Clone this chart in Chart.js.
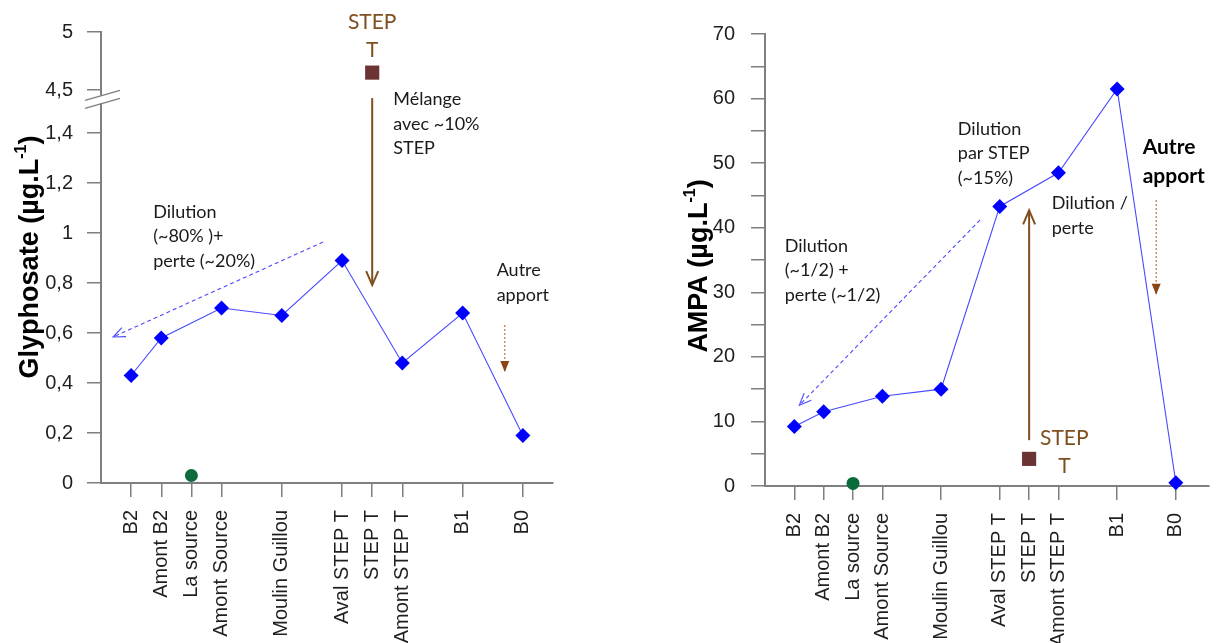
<!DOCTYPE html>
<html>
<head>
<meta charset="utf-8">
<script src="https://cdn.jsdelivr.net/npm/chart.js@4.4.0/dist/chart.umd.min.js"></script>
<style>
html, body { margin: 0; padding: 0; background: #fff; overflow: hidden; }
.box { position: absolute; top: 0; height: 643px; }
#left { left: 0; width: 600px; }
#right { left: 609px; width: 610px; }
</style>
</head>
<body>
<div class="box" id="left"><canvas id="glyChart"></canvas></div>
<div class="box" id="right"><canvas id="ampaChart"></canvas></div>
<script>
// sampling sites, upstream -> downstream, and their place on the x axis
const sites = ['B2', 'Amont B2', 'La source', 'Amont Source', 'Moulin Guillou',
  'Aval STEP T', 'STEP T', 'Amont STEP T', 'B1', 'B0'];
const sitePos = [0, 1, 2, 3, 5, 7, 8, 9, 11, 13];

// glyphosate (µg/L)
const glyRiver  = [0.43, 0.58, null, 0.70, 0.67, 0.89, null, 0.48, 0.68, 0.19];
const glySource = [null, null, 0.03, null, null, null, null, null, null, null];
const glyStep   = [null, null, null, null, null, null, 4.65, null, null, null];

// AMPA (µg/L)
const ampaRiver  = [9.2, 11.5, null, 13.9, 15.0, 43.3, null, 48.5, 61.5, 0.5];
const ampaSource = [null, null, 0.4, null, null, null, null, null, null, null];
const ampaStep   = [null, null, null, null, null, null, 4.2, null, null, null];

// y ticks
const glyLowTicks  = [0, 0.1, 0.2, 0.3, 0.4, 0.5, 0.6, 0.7, 0.8, 0.9, 1, 1.1, 1.2, 1.3, 1.4, 1.5];
const glyLowLabels = [0, 0.2, 0.4, 0.6, 0.8, 1, 1.2, 1.4];
const glyHighTicks  = [4.5, 4.75, 5];
const glyHighLabels = [4.5, 5];
const ampaTicks  = [0, 5, 10, 15, 20, 25, 30, 35, 40, 45, 50, 55, 60, 65, 70];
const ampaLabels = [0, 10, 20, 30, 40, 50, 60, 70];

const AXIS = '#7f7f7f';
const TXT = '#1f1f1f';
const BROWN = '#7f4f1f';
const tickFont = { family: '"Liberation Sans", Arial, sans-serif', size: 20 };
const fr = v => String(v).replace('.', ',');
const pts = vals => sitePos.map((x, i) => ({ x: x, y: vals[i] }));

function arrow(ctx, x1, y1, x2, y2, st) {
  ctx.save();
  ctx.strokeStyle = st.color;
  ctx.lineWidth = st.width;
  ctx.setLineDash(st.dash || []);
  ctx.beginPath(); ctx.moveTo(x1, y1); ctx.lineTo(x2, y2); ctx.stroke();
  const a = Math.atan2(y2 - y1, x2 - x1), L = st.head, W = st.spread;
  const bx = x2 - L * Math.cos(a), by = y2 - L * Math.sin(a);
  ctx.setLineDash([]);
  ctx.beginPath();
  ctx.moveTo(bx + W * Math.sin(a), by - W * Math.cos(a));
  ctx.lineTo(x2, y2);
  ctx.lineTo(bx - W * Math.sin(a), by + W * Math.cos(a));
  if (st.fill) { ctx.closePath(); ctx.fillStyle = st.fill; ctx.fill(); } else { ctx.stroke(); }
  ctx.restore();
}

// titles, notes, arrows and axis break
const decor = cfg => ({
  id: 'decor',
  afterDraw(chart) {
    const ctx = chart.ctx, sx = chart.scales.x;
    const P = p => [sx.getPixelForValue(p[0]), chart.scales[p[2]].getPixelForValue(p[1])];

    // axis title with superscript
    const t = cfg.title;
    ctx.save();
    ctx.translate(t.x, t.y);
    ctx.rotate(-Math.PI / 2);
    ctx.fillStyle = '#000';
    ctx.textBaseline = 'middle';
    ctx.textAlign = 'left';
    const big = 'bold 27px "Liberation Sans", Arial, sans-serif';
    const small = 'bold 16px "Liberation Sans", Arial, sans-serif';
    ctx.font = big; const w1 = ctx.measureText(t.text).width, w3 = ctx.measureText(')').width;
    ctx.font = small; const w2 = ctx.measureText(t.sup).width;
    let x0 = -(w1 + w2 + w3) / 2;
    ctx.font = big; ctx.fillText(t.text, x0, 0);
    ctx.font = small; ctx.fillText(t.sup, x0 + w1, -9);
    ctx.font = big; ctx.fillText(')', x0 + w1 + w2, 0);
    ctx.restore();

    if (cfg.brk) {
      const ax = chart.chartArea.left, b = chart.scales.yHi.bottom;
      ctx.save();
      ctx.fillStyle = '#fff';
      ctx.fillRect(ax - 3, b - 4, 6, 8);
      ctx.strokeStyle = AXIS; ctx.lineWidth = 1.3;
      [-4, 4].forEach(d => {
        ctx.beginPath(); ctx.moveTo(ax - 16, b + d + 5); ctx.lineTo(ax + 19, b + d - 5); ctx.stroke();
      });
      ctx.restore();
    }

    cfg.arrows.forEach(a => {
      const p = P(a.from), q = P(a.to);
      arrow(ctx, p[0], p[1], q[0], q[1], a.style);
    });

    cfg.notes.forEach(n => {
      const p = P(n.at);
      ctx.save();
      ctx.font = (n.bold ? 'bold ' : '') + n.size + 'px Lato, "Open Sans", sans-serif';
      ctx.fillStyle = n.color || '#1a1a1a';
      ctx.textAlign = n.align || 'left';
      ctx.textBaseline = 'middle';
      n.lines.forEach((s, i) => ctx.fillText(s, p[0], p[1] + i * n.lh));
      ctx.restore();
    });
  }
});

const solidBrown = { color: BROWN, width: 2, head: 14, spread: 6 };
const dashBlue = { color: '#4a4aff', width: 1.1, dash: [4, 3], head: 12, spread: 5 };
const dotBrown = { color: '#c47a45', width: 1.3, dash: [2, 2], head: 11, spread: 4.5, fill: '#8b4513' };

function riverSet(vals, yId) {
  return {
    data: pts(vals), yAxisID: yId, spanGaps: true, clip: false,
    borderColor: '#4848ff', borderWidth: 1.1,
    pointStyle: 'rectRot', pointRadius: 7.5, pointBackgroundColor: '#0000ff', pointBorderWidth: 0
  };
}
function sourceSet(vals, yId) {
  return {
    data: pts(vals), yAxisID: yId, showLine: false, clip: false,
    pointStyle: 'circle', pointRadius: 6.5, pointBackgroundColor: '#0b6b3a', pointBorderWidth: 0
  };
}
function stepSet(vals, yId) {
  return {
    data: pts(vals), yAxisID: yId, showLine: false, clip: false,
    pointStyle: 'rect', pointRadius: 10, pointBackgroundColor: '#6b3333', pointBorderWidth: 0
  };
}

function xScale(max, height) {
  return {
    type: 'linear', min: -1, max: max,
    afterBuildTicks: s => { s.ticks = sitePos.map(v => ({ value: v })); },
    afterFit: s => { s.height = height; },
    ticks: { autoSkip: false, minRotation: 90, maxRotation: 90, padding: 13, color: TXT, font: tickFont,
      callback: (v, i) => sites[i] },
    grid: { drawOnChartArea: false, tickLength: 14, color: AXIS, lineWidth: 1.5 },
    border: { color: AXIS, width: 2 }
  };
}
function yScale(min, max, ticks, labels, width, pad, extra) {
  return Object.assign({
    type: 'linear', position: 'left', min: min, max: max,
    afterBuildTicks: s => { s.ticks = ticks.map(v => ({ value: v })); },
    afterFit: s => { s.width = width; },
    ticks: { padding: pad, color: TXT, font: tickFont,
      callback: v => labels.includes(v) ? fr(v) : '' },
    grid: { drawOnChartArea: false, tickLength: 14, color: AXIS, lineWidth: 1.5 },
    border: { color: AXIS, width: 2 }
  }, extra || {});
}
const base = {
  responsive: true, maintainAspectRatio: false, animation: false,
  plugins: { legend: { display: false }, tooltip: { enabled: false } }
};

new Chart(document.getElementById('glyChart'), {
  type: 'line',
  data: { datasets: [riverSet(glyRiver, 'yLo'), sourceSet(glySource, 'yLo'), stepSet(glyStep, 'yHi')] },
  options: Object.assign({}, base, {
    layout: { padding: { top: 32, left: 0, right: 47, bottom: 0 } },
    scales: {
      x: xScale(14, 160),
      yLo: yScale(0, 1.535, glyLowTicks, glyLowLabels, 101, 14, { stack: 'gly', stackWeight: 383.7 }),
      yHi: yScale(4.42, 5, glyHighTicks, glyHighLabels, 101, 14, { stack: 'gly', stackWeight: 67.3 })
    }
  }),
  plugins: [decor({
    title: { text: 'Glyphosate (µg.L', sup: '-1', x: 31, y: 257 },
    brk: true,
    arrows: [
      { from: [8, 4.43, 'yHi'], to: [8, 0.792, 'yLo'], style: solidBrown },
      { from: [6.37, 0.964, 'yLo'], to: [-0.6, 0.584, 'yLo'], style: dashBlue },
      { from: [12.4, 0.632, 'yLo'], to: [12.4, 0.444, 'yLo'], style: dotBrown }
    ],
    notes: [
      { at: [8, 5.086, 'yHi'], lines: ['STEP', 'T'], lh: 28, size: 21, color: BROWN, align: 'center' },
      { at: [8.7, 4.42, 'yHi'], lines: ['Mélange', 'avec ~10%', 'STEP'], lh: 24.5, size: 18 },
      { at: [0.73, 1.084, 'yLo'], lines: ['Dilution', '(~80% )+', 'perte (~20%)'], lh: 24.5, size: 18 },
      { at: [12.13, 0.852, 'yLo'], lines: ['Autre', 'apport'], lh: 25, size: 18 }
    ]
  })]
});

new Chart(document.getElementById('ampaChart'), {
  type: 'line',
  data: { datasets: [riverSet(ampaRiver, 'y'), sourceSet(ampaSource, 'y'), stepSet(ampaStep, 'y')] },
  options: Object.assign({}, base, {
    layout: { padding: { top: 34, left: 0, right: 0, bottom: 0 } },
    scales: {
      x: xScale(14.13, 157),
      y: yScale(0, 70, ampaTicks, ampaLabels, 156, 16)
    }
  }),
  plugins: [decor({
    title: { text: 'AMPA (µg.L', sup: '-1', x: 91, y: 266 },
    brk: false,
    arrows: [
      { from: [8, 7.1, 'y'], to: [8, 42.7, 'y'], style: solidBrown },
      { from: [6.33, 41.2, 'y'], to: [0.17, 12.5, 'y'], style: dashBlue },
      { from: [12.33, 44.3, 'y'], to: [12.33, 29.6, 'y'], style: dotBrown }
    ],
    notes: [
      { at: [-0.33, 37.2, 'y'], lines: ['Dilution', '(~1/2) +', 'perte (~1/2)'], lh: 24.5, size: 18 },
      { at: [5.57, 55.3, 'y'], lines: ['Dilution', 'par STEP', '(~15%)'], lh: 24.5, size: 18 },
      { at: [8.77, 43.8, 'y'], lines: ['Dilution /', 'perte'], lh: 25, size: 18 },
      { at: [9.2, 7.43, 'y'], lines: ['STEP', 'T'], lh: 28, size: 21, color: BROWN, align: 'center' },
      { at: [11.87, 52.5, 'y'], lines: ['Autre', 'apport'], lh: 29, size: 21, bold: true, color: '#000' }
    ]
  })]
});
</script>
</body>
</html>
